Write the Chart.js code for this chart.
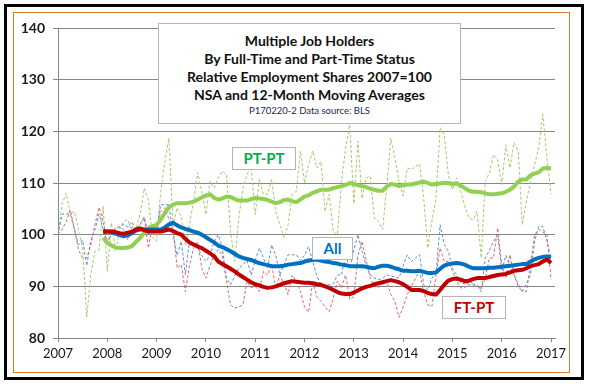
<!DOCTYPE html>
<html>
<head>
<meta charset="utf-8">
<script src="https://cdn.jsdelivr.net/npm/chart.js@4/dist/chart.umd.min.js"></script>
<style>
  html, body { margin: 0; padding: 0; background: #fff; }
  #wrap { position: relative; width: 589px; height: 384px; overflow: hidden; font-family: Lato, "Open Sans", sans-serif; }
  .frame { position: absolute; box-sizing: border-box; }
  #outer { left: 4px; top: 4px; width: 580px; height: 376px; border: 3px solid #000; }
  #inner { left: 13px; top: 12px; width: 557px; height: 361px; border: 1.5px solid #d97b29; }
  canvas { position: absolute; left: 0; top: 0; }
  .box { position: absolute; box-sizing: border-box; background: #fff; border: 1px solid #b4b4b4; text-align: center; font-weight: bold; }
  #title { left: 158px; top: 23px; width: 303px; height: 101px; padding-top: 8px; color: #111; font-size: 14px; line-height: 18px; }
  #title .src { font-weight: normal; font-size: 9.5px; line-height: 14px; color: #23235e; }
  .lbl { font-size: 15px; line-height: 21px; }
</style>
</head>
<body>
<div id="wrap">
  <div class="frame" id="outer"></div>
  <div class="frame" id="inner"></div>
  <canvas id="jobChart" width="589" height="384"></canvas>
  <div class="box" id="title">
    <div>Multiple Job Holders</div>
    <div>By Full-Time and Part-Time Status</div>
    <div>Relative Employment Shares 2007=100</div>
    <div>NSA and 12-Month Moving Averages</div>
    <div class="src">P170220-2 Data source: BLS</div>
  </div>
  <div class="box lbl" style="left:232px;top:147px;width:64px;height:23px;color:#00b050;">PT-PT</div>
  <div class="box lbl" style="left:312px;top:237px;width:41px;height:23px;color:#0070c0;">All</div>
  <div class="box lbl" style="left:442px;top:296px;width:64px;height:23px;color:#c00000;">FT-PT</div>
</div>
<script>
// monthly data Jan 2007 .. Jan 2017, 2007 = 100
const startYear = 2007;
const monthCount = 121;
const maStart = 11; // first 12-month average is Dec 2007

const ptptNsa = [
  100, 106, 108, 104, 104.5, 101, 97.5, 84, 92.5, 96.8, 97, 105.5,
  92.9, 102.3, 96.8, 101, 102.6, 102.9, 100.3, 101.3, 104, 109, 106.8, 99.5,
  98.7, 108.4, 114.2, 118.7, 101.9, 105.2, 103.5, 98, 102, 106.5, 112, 108.4,
  103.9, 110.3, 109, 111, 112.3, 111.6, 100.6, 94.8, 103.2, 109, 111.6, 113.2,
  103.9, 110.7, 107.8, 107.8, 110.7, 104.5, 101.9, 99.4, 101.9, 107.8, 108.4, 116.2,
  110, 113.6, 116.2, 112.9, 114.2, 104.5, 107.8, 100.6, 100, 110.3, 116.8, 121.3,
  106, 118.1, 107, 111, 111.3, 103.2, 102.6, 101, 109, 118.7, 114.9, 110.3,
  107.5, 112.9, 112.6, 113.2, 113.7, 107.1, 97.4, 102.6, 107.1, 120.7, 119.4, 111.6,
  108.7, 111, 108.4, 105.5, 103.2, 102.9, 104.5, 95.5, 110.3, 112, 115.5, 114.5,
  109.7, 117.4, 112.9, 117.8, 116.2, 101.9, 106.5, 110.3, 113.6, 116.8, 123.3, 114.9,
  107.8
];
const allNsa = [
  100, 104, 104, 104, 101, 98, 99, 94, 99, 101, 104, 101,
  98.5, 100.5, 101, 101.5, 102, 101.5, 102.5, 101, 102, 103.5, 100, 102,
  101, 105.8, 105.8, 105.8, 100, 96, 98.7, 92.2, 98.7, 98.4, 97.5, 96,
  94.8, 96, 98.7, 100, 97.4, 91.6, 90.3, 92, 93.5, 94.2, 95, 92.2,
  95, 97.4, 95.5, 93.5, 98, 96, 92.2, 94.2, 96.1, 96.1, 96.1, 95,
  96, 97.7, 94.8, 92, 90.3, 90.3, 90.3, 90.5, 92.2, 92.2, 96.1, 93.5,
  97, 100, 96.8, 94, 92.2, 91.6, 91.3, 91.5, 92.2, 92, 91.8, 91.6,
  94, 96.1, 94.8, 95.5, 96.1, 90.3, 89.3, 91.6, 92.5, 101.9, 98.1, 96.8,
  93.5, 92.2, 90.6, 90.5, 90.3, 90.3, 90.3, 89, 95.5, 97, 98.7, 100,
  93, 96, 94, 92.2, 90, 89, 90.5, 92.2, 98.7, 101.6, 101.6, 98.7,
  95.5
];
const ftptNsa = [
  100, 101, 102.5, 104.8, 101, 97, 95.5, 95.5, 98, 102, 105.3, 102.5,
  98.4, 100, 101.3, 101.5, 101, 99, 101.5, 101.3, 102, 103.2, 97.4, 101.9,
  100.6, 104.5, 105.2, 103, 101.3, 93.5, 94.2, 89, 94, 97.4, 98.7, 93.5,
  91.6, 94, 96.1, 97.1, 96, 91, 86.4, 85.8, 86, 86.4, 91, 89.7,
  90, 89, 92.9, 92.2, 94.2, 89.7, 92.2, 90.5, 88.4, 92.2, 91, 89,
  86, 85, 91, 88, 87.1, 86, 85.1, 87.7, 91, 89.7, 92.2, 87.5,
  88, 96, 98.7, 95, 91.6, 90, 89.7, 91, 91, 88.4, 87.1, 84,
  86, 88.4, 90, 91.6, 92.9, 89, 86.4, 86.1, 92.2, 97.4, 94.8, 94.8,
  93, 91, 89.7, 89.7, 91, 90.5, 89.7, 89.7, 91.6, 95.5, 95.5, 101.3,
  94.2, 91.6, 96.1, 92.2, 90.5, 89, 89, 94.2, 100, 101, 100.5, 100,
  91.3
];

// 12-month moving averages, Dec 2007 .. Jan 2017
const ptptMa = [
  99.4,
  98.4, 97.9, 97.5, 97.4, 97.4, 97.5, 97.8, 98.6, 99.4, 100.4, 101.3, 101.6,
  101.9, 102.9, 104.2, 105.3, 105.8, 106.1, 106.1, 106.1, 106.2, 106.4, 106.8, 107.2,
  107.6, 107.8, 107.1, 106.8, 107, 107.4, 107.3, 106.9, 106.6, 106.6, 106.6, 106.9,
  107.1, 107, 106.9, 106.7, 106.4, 106.1, 106.3, 106.7, 106.8, 106.5, 106.3, 106.8,
  107.4, 107.6, 108.1, 108.4, 108.7, 108.7, 108.7, 109, 109.2, 109.4, 109.6, 110,
  109.8, 109.6, 109.4, 109.2, 108.9, 108.7, 108.5, 108.5, 109.3, 109.8, 109.7, 109.4,
  109.6, 109.7, 109.7, 109.9, 110.1, 110.3, 110, 109.7, 109.8, 109.9, 110, 110,
  109.8, 109.9, 109.5, 109, 108.5, 108.3, 108.3, 108.2, 108, 107.8, 107.8, 107.9,
  108, 108.3, 108.7, 109.3, 110.3, 110.7, 110.7, 111.5, 111.8, 112.1, 112.8, 112.9,
  112.8
];
const allMa = [
  100.8,
  100.6, 100.5, 100.2, 99.9, 99.7, 99.9, 100.3, 100.8, 101, 101, 101, 101,
  101, 101, 101.4, 102, 102.3, 101.8, 101.4, 101.1, 100.9, 100.6, 100.4, 100,
  99.5, 99, 98.5, 97.9, 97.6, 97.2, 96.8, 96.3, 95.8, 95.5, 95.3, 95.1,
  94.8, 94.5, 94.3, 94.1, 93.9, 93.9, 93.9, 94, 94.2, 94.3, 94.4, 94.5,
  94.8, 95, 95.1, 95.2, 95, 94.8, 94.7, 94.5, 94.4, 94.2, 94.1, 93.9,
  93.9, 93.9, 93.9, 93.8, 93.6, 93.5, 93.8, 94, 94, 93.8, 93.5, 93.3,
  93, 93, 92.9, 92.9, 93, 92.8, 92.6, 92.6, 92.7, 93.4, 94, 94.3,
  94.4, 94.5, 94.4, 94.2, 93.8, 93.5, 93.5, 93.5, 93.5, 93.6, 93.6, 93.7,
  93.8, 93.9, 94, 94.1, 94.2, 94.3, 94.3, 94.8, 95.2, 95.5, 95.7, 95.8,
  95.6
];
const ftptMa = [
  100.5,
  100.6, 100.6, 100.5, 100.3, 100.2, 100.4, 100.6, 101, 101.2, 100.9, 100.6, 100.6,
  100.6, 100.6, 100.8, 101, 100.7, 100.3, 100, 99.2, 98.5, 98.1, 97.7, 97.4,
  96.9, 96.4, 95.8, 94.8, 94.3, 93.9, 93.4, 92.9, 92.3, 91.8, 91.3, 90.8,
  90.4, 90.2, 89.9, 89.7, 89.8, 90, 90.3, 90.6, 90.8, 91, 90.9, 90.8,
  90.7, 90.7, 90.6, 90.4, 90.3, 90, 89.7, 89.3, 88.9, 88.6, 88.5, 88.5,
  88.8, 89.2, 89.6, 89.9, 90.1, 90.4, 90.6, 90.8, 91, 91.2, 91, 90.8,
  90.4, 89.9, 89.3, 89.3, 89.3, 89.1, 88.7, 88.5, 88.4, 89.3, 90.3, 91.1,
  91.4, 91.5, 91.3, 91, 91.1, 91.4, 91.6, 91.6, 91.6, 91.8, 92, 92.2,
  92.3, 92.4, 92.7, 93, 93.1, 93.2, 93.5, 93.9, 94.1, 94.3, 94.8, 95.2,
  94.5
];

const yTicks = [80, 90, 100, 110, 120, 130, 140];
const yearTicks = [2007, 2008, 2009, 2010, 2011, 2012, 2013, 2014, 2015, 2016, 2017];

// month positions on the time axis
const monthX = [];
for (let i = 0; i < monthCount; i++) monthX.push(startYear + i / 12);

function toPoints(values, offset) {
  return values.map((v, i) => ({ x: monthX[i + offset], y: v }));
}

function nsaLine(values, color) {
  return {
    data: toPoints(values, 0),
    borderColor: color,
    borderWidth: 1,
    borderDash: [3, 2],
    pointRadius: 0,
    tension: 0,
  };
}
function maLine(values, color) {
  return {
    data: toPoints(values, maStart),
    borderColor: color,
    borderWidth: 4,
    pointRadius: 0,
    tension: 0,
    borderJoinStyle: 'round',
  };
}

const ctx = document.getElementById('jobChart');
new Chart(ctx.getContext('2d'), {
  type: 'line',
  data: {
    // first dataset is drawn on top
    datasets: [
      maLine(ftptMa, '#c00000'),
      maLine(allMa, '#0070c0'),
      maLine(ptptMa, '#92d050'),
      nsaLine(ftptNsa, '#d9696b'),
      nsaLine(allNsa, '#5b8fd6'),
      nsaLine(ptptNsa, '#a2c96a'),
    ],
  },
  options: {
    responsive: false,
    animation: false,
    devicePixelRatio: 1,
    layout: { padding: { top: 28, right: 34, left: 0, bottom: 0 } },
    plugins: { legend: { display: false }, tooltip: { enabled: false } },
    scales: {
      x: {
        type: 'linear',
        min: 2007,
        max: 2017.08,
        afterBuildTicks: (scale) => { scale.ticks = yearTicks.map(v => ({ value: v })); },
        afterFit: (scale) => { scale.height = 46; },
        ticks: {
          callback: (v) => String(v),
          maxRotation: 0,
          autoSkip: false,
          padding: 4,
          color: '#1a1a1a',
          font: { family: 'Lato', size: 13 },
        },
        grid: { drawOnChartArea: false, tickLength: 4, color: '#868686' },
        border: { color: '#868686' },
      },
      y: {
        min: 80,
        max: 140,
        afterBuildTicks: (scale) => { scale.ticks = yTicks.map(v => ({ value: v })); },
        afterFit: (scale) => { scale.width = 58; },
        ticks: {
          padding: 8,
          color: '#1a1a1a',
          font: { family: 'Lato', size: 14, weight: 'bold' },
        },
        grid: { tickLength: 5, color: '#868686' },
        border: { color: '#868686' },
      },
    },
  },
});
</script>
</body>
</html>
